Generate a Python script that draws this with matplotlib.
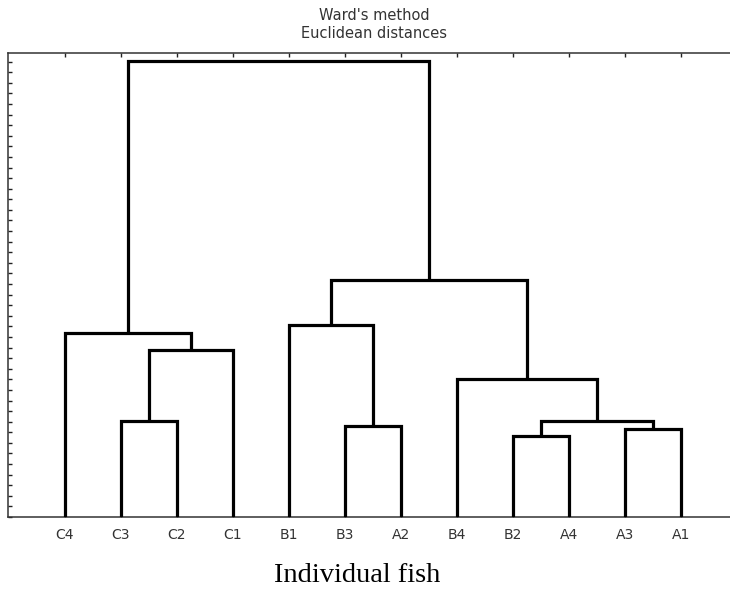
import matplotlib
matplotlib.use("Agg")
import matplotlib.pyplot as plt
import numpy as np

# ---- data ----
leaves = ["C4", "C3", "C2", "C1", "B1", "B3", "A2", "B4", "B2", "A4", "A3", "A1"]
merge_left = ["C3", "m1", "C4", "B3", "B1", "B2", "A3", "m6", "B4", "m5", "m3"]
merge_right = ["C2", "C1", "m2", "A2", "m4", "A4", "A1", "m7", "m8", "m9", "m10"]
merge_names = ["m1", "m2", "m3", "m4", "m5", "m6", "m7", "m8", "m9", "m10", "root"]
merge_heights = [9.07, 15.8, 17.4, 8.6, 18.1, 7.65, 8.28, 9.07, 13.0, 22.4, 43.1]

title_text = "Ward's method\nEuclidean distances"
xlabel_text = "Individual fish"

# ---- figure ----
W, H = 730, 594
fig = plt.figure(figsize=(W / 100, H / 100), dpi=100)
left_px, right_px, top_px, bottom_px = 8, 742, 53, 517
ax = fig.add_axes([left_px / W, (H - bottom_px) / H,
                   (right_px - left_px) / W, (bottom_px - top_px) / H])

pos = {name: (float(i), 0.0) for i, name in enumerate(leaves)}
for l, r, n, h in zip(merge_left, merge_right, merge_names, merge_heights):
    xl, yl = pos[l]
    xr, yr = pos[r]
    ax.plot([xl, xl, xr, xr], [yl, h, h, yr], color="black", lw=2.3,
            solid_joinstyle="miter", solid_capstyle="butt", zorder=3)
    pos[n] = ((xl + xr) / 2.0, h)

# axis scaling: leaf spacing 56 px, first leaf at x=65 px
sp = 56.0
ax.set_xlim((left_px - 65) / sp, (right_px - 65) / sp)
unit = 10.59
ax.set_ylim(0, (bottom_px - top_px) / unit)

ax.set_xticks(np.arange(len(leaves)))
ax.set_xticklabels(leaves, fontsize=10, color="#333333", family="DejaVu Sans")
ax.set_yticks(np.arange(0, 44))
ax.set_yticklabels([])

for s in ["left", "top", "bottom"]:
    ax.spines[s].set_color("#333333")
    ax.spines[s].set_linewidth(1.1)
ax.spines["right"].set_visible(False)

ax.tick_params(axis="y", direction="in", length=3, width=1.0, color="#222222",
               left=True, right=False)
ax.tick_params(axis="x", direction="in", length=3, width=1.0, color="#222222",
               top=True, bottom=True, labeltop=False, pad=8)

fig.text(374 / W, 1 - 24 / H, title_text, ha="center", va="center",
         fontsize=10.5, color="#333333", family="DejaVu Sans", linespacing=1.25)
fig.text(357 / W, 1 - 575 / H, xlabel_text, ha="center", va="center",
         fontsize=20.5, color="black", family="Liberation Serif")

fig.savefig("out.png", dpi=100)
